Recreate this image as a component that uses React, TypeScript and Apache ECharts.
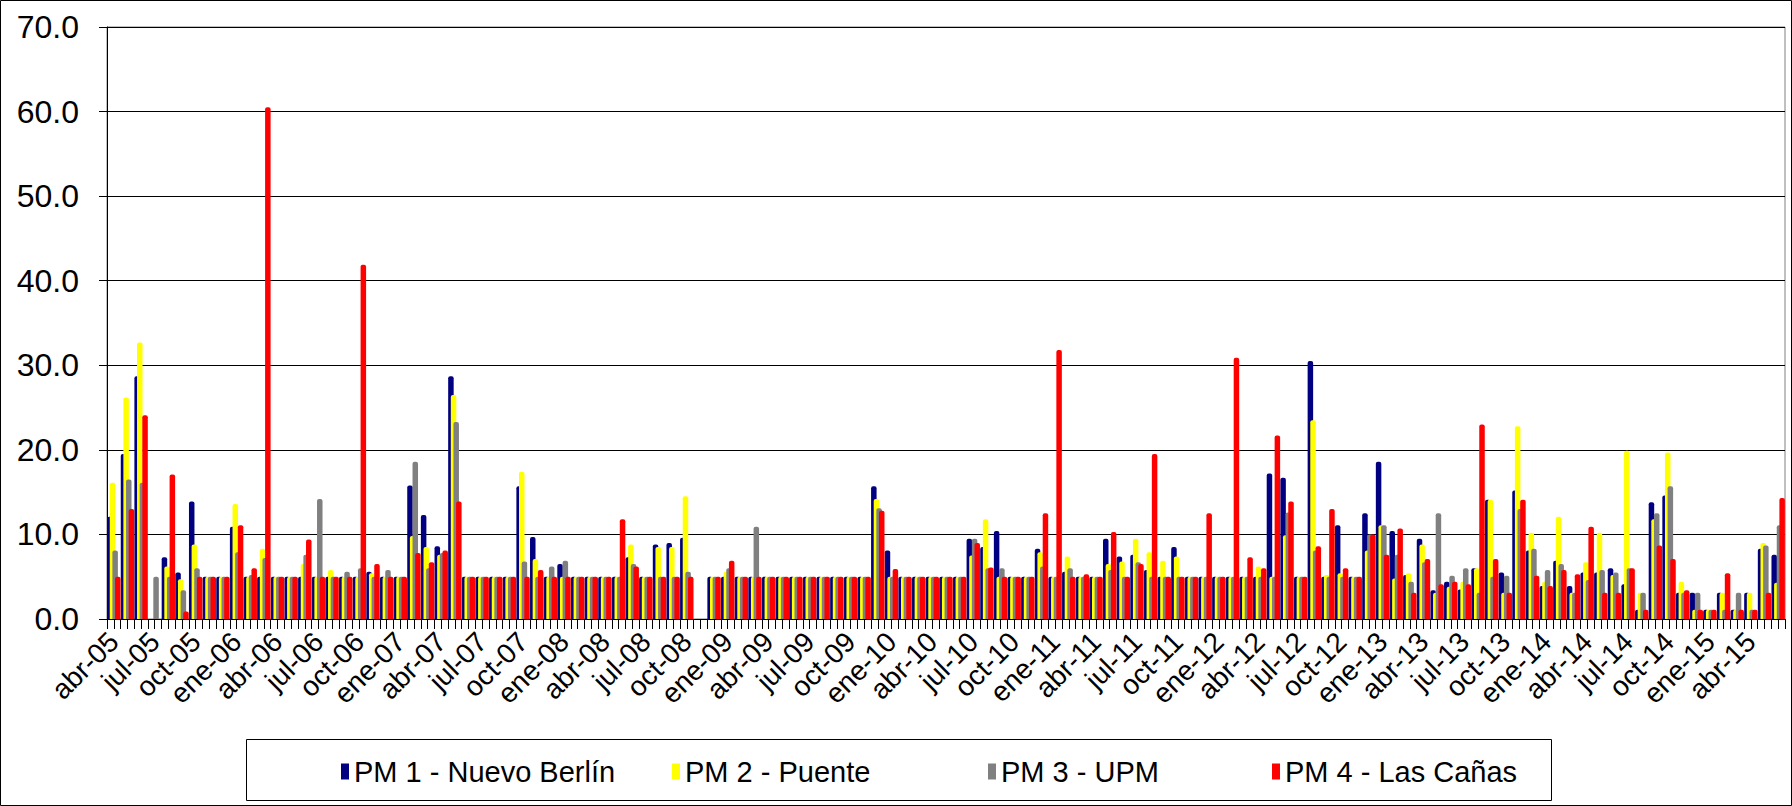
import React, { useEffect, useRef } from "react";
import * as echarts from "echarts";

const monthNames = ["ene", "feb", "mar", "abr", "may", "jun", "jul", "ago", "sep", "oct", "nov", "dic"];

// Monthly categories from abr-05 to jun-15
const categories: string[] = [];
for (let y = 2005; y <= 2015; y++) {
  for (let m = 0; m < 12; m++) {
    if (y === 2005 && m < 3) continue;
    if (y === 2015 && m > 5) continue;
    categories.push(`${monthNames[m]}-${String(y % 100).padStart(2, "0")}`);
  }
}

const seriesNames = ["PM 1 - Nuevo Berlín", "PM 2 - Puente", "PM 3 - UPM", "PM 4 - Las Cañas"];

const pm1: (number | null)[] = [
  12.1, 19.5, 28.7, null, 7.3, 5.5, 13.9, 5, 5, 10.9,
  5, 5, 5, 5, 5, 5, 5, 5, 5, 5.6,
  5, 5, 15.8, 12.3, 8.6, 28.7, 5, 5, 5, 5,
  15.7, 9.7, 5, 6.5, 5, 5, 5, 5, 7.3, 5,
  8.8, 9.0, 9.6, null, 5, 5, 5, 5, 5, 5,
  5, 5, 5, 5, 5, 5, 15.7, 8.1, 5, 5,
  5, 5, 5, 9.5, 8.5, 10.4, 5, 5, 8.3, 5,
  5.6, 5, 5, 9.5, 7.4, 7.6, 5.8, 5, 8.5, 5,
  5, 5, 5, 5, 5, 17.2, 16.7, 5, 30.5, 5,
  11.1, 5, 12.5, 18.6, 10.4, 5.2, 9.5, 3.4, 4.4, 3.5,
  6.0, 14.1, 5.5, 15.2, 8.1, 3.9, 6.9, 3.9, 5.5, 5.5,
  6.0, 4.1, 1.1, 13.8, 14.6, 3.1, 3.1, 1.1, 3.1, 1.1,
  3.1, 8.3, 7.6,
];

const pm2: (number | null)[] = [
  16.1, 26.2, 32.7, null, 6.2, 4.7, 8.8, 5, 5, 13.6,
  5, 8.3, 5, 5, 6.5, 5, 5.8, 5, 5, 5.4,
  5, 5, 9.8, 8.5, 7.6, 26.5, 5, 5, 5, 5,
  17.4, 7.1, 5, 5, 5, 5, 5, 5, 8.8, 5,
  8.5, 8.5, 14.5, null, 5, 5.6, 5, 5, 5, 5,
  5, 5, 5, 5, 5, 5, 14.2, 5, 5, 5,
  5, 5, 5, 7.5, 11.8, 5, 5, 5, 7.9, 5,
  7.4, 5, 5, 6.5, 6.8, 9.5, 7.9, 6.9, 7.4, 5,
  5, 5, 5, 5, 6.2, 5, 9.9, 5, 23.5, 5.2,
  5.4, 5, 8.1, 11.1, 4.8, 5.4, 8.8, 3.1, 3.8, 4.4,
  6.0, 14.1, 3.1, 22.8, 10.2, 4.4, 12.1, 3.1, 6.7, 10.2,
  5.2, 19.9, 3.1, 11.8, 19.7, 4.4, 1.1, 1.1, 3.1, 1.1,
  3.1, 9.0, 4.3,
];

const pm3: (number | null)[] = [
  8.1, 16.5, 16.1, 5, 5, 3.4, 6.0, 5, 5, 7.9,
  5.2, 7.2, 5, 5, 7.6, 14.2, 5, 5.6, 6.0, 5,
  5.8, 5, 18.6, 6.0, 7.8, 23.3, 5, 5, 5, 5,
  6.8, 5, 6.2, 6.9, 5, 5, 5, 5, 6.5, 5,
  5, 5, 5.6, null, 5, 6.0, 5, 10.9, 5, 5,
  5, 5, 5, 5, 5, 5, 13.1, 5, 5, 5,
  5, 5, 5, 9.5, 6.0, 6.0, 5, 5, 6.2, 5,
  6.0, 5, 5, 5.8, 5, 6.7, 5, 5, 5, 5,
  5, 5, 5, 5, 5, 5, 12.6, 5, 8.1, 5,
  5, 5, 10.0, 11.1, 7.6, 4.4, 6.7, 12.5, 5.1, 6.0,
  3.1, 5, 5.1, 13.0, 8.3, 5.8, 6.5, 3.1, 4.6, 5.8,
  5.5, 6.0, 3.1, 12.5, 15.7, 3.1, 3.1, 1.1, 1.1, 3.1,
  1.1, 8.7, 11.1,
];

const pm4: (number | null)[] = [
  5, 13.0, 24.1, null, 17.1, 0.9, 5, 5, 5, 11.1,
  6.0, 60.5, 5, 5, 9.4, 5, 5, 5, 41.9, 6.5,
  5, 5, 7.8, 6.7, 8.1, 13.9, 5, 5, 5, 5,
  5, 5.8, 5, 5, 5, 5, 5, 11.8, 6.2, 5,
  5, 5, 5, null, 5, 6.9, 5, 5, 5, 5,
  5, 5, 5, 5, 5, 5, 12.8, 5.9, 5, 5,
  5, 5, 5, 9.0, 6.1, 5, 5, 5, 12.5, 31.8,
  5, 5.3, 5, 10.3, 5, 6.5, 19.5, 5, 5, 5,
  12.5, 5, 30.9, 7.3, 6.0, 21.7, 13.9, 5, 8.6, 13.0,
  6.0, 5, 10.0, 7.6, 10.7, 3.1, 7.1, 4.1, 4.4, 4.1,
  23.0, 7.1, 3.1, 14.1, 5.1, 3.9, 5.8, 5.3, 10.9, 3.1,
  3.1, 6.0, 1.1, 8.7, 7.1, 3.4, 1.1, 1.1, 5.4, 1.1,
  1.1, 3.1, 14.3,
];

const seriesData = [pm1, pm2, pm3, pm4];
const colors = ["#000080", "#FFFF00", "#808080", "#FF0000"];
const yTicks = { min: 0, max: 70, interval: 10 };

const FONT = "'Liberation Sans', Arial, sans-serif";
const legendLefts = [336, 667, 983, 1267];

export default function App() {
  const ref = useRef<HTMLDivElement>(null);
  useEffect(() => {
    if (!ref.current) return;
    const chart = echarts.init(ref.current, undefined, { renderer: "svg" });
    const option: any = {
      animation: false,
      backgroundColor: "#ffffff",
      textStyle: { fontFamily: FONT },
      grid: {
        left: 107,
        right: 7,
        top: 27,
        bottom: 187,
        show: true,
        borderColor: "#808080",
        borderWidth: 1,
        backgroundColor: "transparent",
      },
      xAxis: [
        {
          type: "category",
          data: categories,
          axisLine: { lineStyle: { color: "#000", width: 1 } },
          axisTick: { show: false },
          axisLabel: {
            interval: 2,
            rotate: 45,
            fontSize: 28,
            color: "#000",
            margin: 18,
            fontFamily: FONT,
          },
          splitLine: { show: false },
        },
        {
          type: "value",
          min: 0,
          max: categories.length * 2,
          interval: 1,
          position: "bottom",
          axisLine: { show: false },
          axisTick: { show: true, length: 10, lineStyle: { color: "#000", width: 1 } },
          axisLabel: { show: false },
          splitLine: { show: false },
        },
      ],
      yAxis: {
        type: "value",
        min: yTicks.min,
        max: yTicks.max,
        interval: yTicks.interval,
        axisLine: { show: true, lineStyle: { color: "#000", width: 1 } },
        axisTick: { show: true, length: 8, lineStyle: { color: "#000" } },
        axisLabel: {
          formatter: (v: number) => v.toFixed(1),
          fontSize: 32,
          color: "#000",
          margin: 28,
          fontFamily: FONT,
        },
        splitLine: { show: true, lineStyle: { color: "#000", width: 1 } },
      },
      legend: seriesNames.map((name, i) => ({
        data: [name],
        left: legendLefts[i],
        top: 752,
        icon: "rect",
        itemWidth: 8,
        itemHeight: 16,
        textStyle: { fontSize: 29, color: "#000", fontFamily: FONT },
      })),
      graphic: [
        {
          type: "rect",
          shape: { x: 0.5, y: 0.5, width: 1791, height: 805 },
          style: { fill: "none", stroke: "#000", lineWidth: 1 },
          silent: true,
          z: -10,
        },
        {
          type: "rect",
          shape: { x: 246.5, y: 739.5, width: 1305, height: 61 },
          style: { fill: "#fff", stroke: "#000", lineWidth: 1 },
          silent: true,
          z: -5,
        },
      ],
      series: seriesNames.map((name, i) => ({
        name,
        type: "bar",
        data: seriesData[i],
        xAxisIndex: 0,
        yAxisIndex: 0,
        barWidth: 5.5,
        barGap: "-52%",
        itemStyle: { color: colors[i], borderRadius: [2, 2, 0, 0] },
        emphasis: { disabled: true },
      })),
    };
    chart.setOption(option);
    return () => chart.dispose();
  }, []);
  return (
    <div
      ref={ref}
      style={{ position: "fixed", left: 0, top: 0, width: 1792, height: 806, background: "#fff" }}
    />
  );
}
